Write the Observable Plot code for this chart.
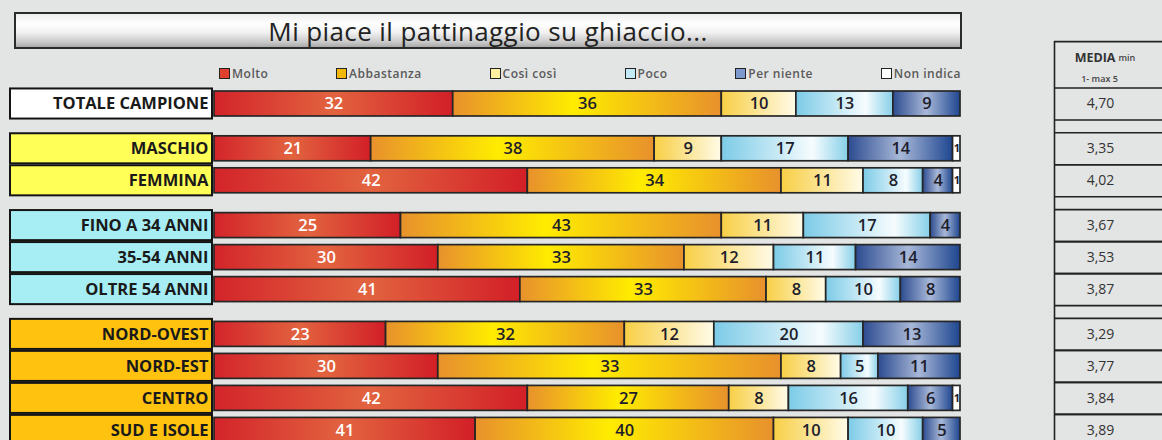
<!DOCTYPE html>
<html>
<head>
<meta charset="utf-8">
<script src="https://cdn.jsdelivr.net/npm/d3@7"></script>
<script src="https://cdn.jsdelivr.net/npm/@observablehq/plot@0.6"></script>
<style>
html, body { margin: 0; padding: 0; background: #e3e4e4; }
#wrap { position: relative; width: 1162px; height: 440px; overflow: hidden; background: #e3e4e4; font-family: "Open Sans", sans-serif; }
#title { position: absolute; left: 14px; top: 12px; width: 944px; height: 33px; border: 2px solid #2b2b2b;
  background: linear-gradient(to bottom, #eeeeee 0%, #ffffff 30%, #f2f2f2 55%, #c9c9c9 85%, #a9a9a9 100%);
  display: flex; align-items: center; justify-content: center; font-size: 26px; color: #222; letter-spacing: 0.4px; }
#legend { position: absolute; left: 219px; top: 64px; width: 742px; height: 18px; display: flex; justify-content: space-between; align-items: center;
  font-size: 12px; font-weight: 600; color: #5a5a5a; letter-spacing: 0.5px; }
#legend .item { display: flex; align-items: center; white-space: nowrap; }
#legend .sw { display: inline-block; width: 9px; height: 9px; border: 1.6px solid #222; margin-right: 2px; }
.col { position: absolute; top: 0; height: 440px; overflow: hidden; }
</style>
</head>
<body>
<div id="wrap">
  <div id="title"></div>
  <div id="legend"></div>
  <div class="col" id="labels" style="left:0;width:214px"></div>
  <div class="col" id="bars" style="left:0;width:962px"></div>
  <div class="col" id="table" style="left:1040px;width:122px"></div>
</div>
<script>
// ---------- DATA ----------
const titleText = "Mi piace il pattinaggio su ghiaccio...";
const categories = ["Molto", "Abbastanza", "Così così", "Poco", "Per niente", "Non indica"];
const rowLabels = ["TOTALE CAMPIONE", "MASCHIO", "FEMMINA", "FINO A 34 ANNI", "35-54 ANNI", "OLTRE 54 ANNI",
                   "NORD-OVEST", "NORD-EST", "CENTRO", "SUD E ISOLE"];
const rowGroups = [0, 1, 1, 2, 2, 2, 3, 3, 3, 3];

// bar lengths as drawn
const molto      = [32, 21, 42, 25, 30, 41, 23, 30, 42, 35];
const abbastanza = [36, 38, 34, 43, 33, 33, 32, 46, 27, 40];
const cosiCosi   = [10,  9, 11, 11, 12,  8, 12,  8,  8, 10];
const poco       = [13, 17,  8, 17, 11, 10, 20,  5, 16, 10];
const perNiente  = [ 9, 14,  4,  4, 14,  8, 13, 11,  6,  5];
const nonIndica  = [ 0,  1,  1,  0,  0,  0,  0,  0,  1,  0];

// numbers printed on the bars (where they differ from the drawn lengths)
const moltoPrinted      = [32, 21, 42, 25, 30, 41, 23, 30, 42, 41];
const abbastanzaPrinted = [36, 38, 34, 43, 33, 33, 32, 33, 27, 40];

const media = [4.70, 3.35, 4.02, 3.67, 3.53, 3.87, 3.29, 3.77, 3.84, 3.89];
const mediaHeader = ["MEDIA", "min", "1- max 5"];

// ---------- STYLE ----------
const groupColors = ["#ffffff", "#ffff57", "#a6eef4", "#ffc20f"];
const swatchColors = ["#e0402e", "#f2b90c", "#fff1a0", "#c2e9f6", "#7d98cc", "#ffffff"];
const gradStops = [
  [[0, "#d3242a"], [0.5, "#e2633f"], [1, "#d21f27"]],
  [[0, "#e8912c"], [0.45, "#ffec00"], [1, "#e8912c"]],
  [[0, "#f8cf45"], [1, "#fffbe8"]],
  [[0, "#7ccbe7"], [0.72, "#f6fcfe"], [1, "#86cfe8"]],
  [[0, "#2c4b90"], [0.5, "#a8b8d8"], [1, "#1e4690"]],
  [[0, "#ffffff"], [1, "#ffffff"]]
];

const series = [molto, abbastanza, cosiCosi, poco, perNiente, nonIndica];
const printed = [moltoPrinted, abbastanzaPrinted, cosiCosi, poco, perNiente, nonIndica];

const rows = rowLabels.map((label, i) => ({
  label, i, group: rowGroups[i], pos: i + 0.4 * rowGroups[i], media: media[i]
}));

const segs = [];
rows.forEach((r, i) => {
  let acc = 0;
  series.forEach((s, k) => {
    const v = s[i];
    if (v > 0) segs.push({row: i, pos: r.pos, cat: k, x1: acc, x2: acc + v, v, label: String(printed[k][i])});
    acc += v;
  });
});

const yScale = {type: "linear", domain: [0, 10], range: [103.5, 423.5], axis: null};
const baseStyle = {background: "transparent", maxWidth: "none", fontFamily: "Open Sans, sans-serif"};

// ---------- TITLE & LEGEND ----------
document.getElementById("title").textContent = titleText;
const leg = d3.select("#legend");
categories.forEach((c, k) => {
  const it = leg.append("div").attr("class", "item");
  it.append("span").attr("class", "sw").style("background", swatchColors[k]);
  it.append("span").text(c);
});

// ---------- LABEL COLUMN ----------
const labelsPlot = Plot.plot({
  width: 214, height: 440, marginLeft: 10, marginRight: 2, marginTop: 0, marginBottom: 0,
  x: {domain: [0, 1], axis: null}, y: yScale, style: baseStyle,
  marks: [
    ...groupColors.map((col, g) => Plot.rect(rows.filter(r => r.group === g), {
      x1: () => 0, x2: () => 1, y1: d => d.pos - 0.47, y2: d => d.pos + 0.47,
      fill: col, stroke: "#141414", strokeWidth: 2
    })),
    Plot.text(rows, {x: () => 1, y: "pos", text: "label", textAnchor: "end", dx: -4,
      fontWeight: 700, fontSize: 16.5, fill: "#1a1a1a", style: "letter-spacing:0.5px"})
  ]
});
document.getElementById("labels").appendChild(labelsPlot);

// ---------- BARS ----------
const barsPlot = Plot.plot({
  width: 962, height: 440, marginLeft: 214, marginRight: 2, marginTop: 0, marginBottom: 0,
  x: {domain: [0, 100], axis: null}, y: yScale, style: baseStyle,
  marks: [
    ...categories.map((c, k) => Plot.rect(segs.filter(d => d.cat === k), {
      x1: "x1", x2: "x2", y1: d => d.pos - 0.39, y2: d => d.pos + 0.39,
      fill: `url(#grad${k})`, stroke: "#262626", strokeWidth: 1.7
    })),
    Plot.text(segs.filter(d => d.cat === 0), {x: d => (d.x1 + d.x2) / 2, y: "pos", text: "label",
      fill: "#ffffff", fontSize: 16.5, fontWeight: 600}),
    Plot.text(segs.filter(d => d.cat > 0 && d.v >= 2), {x: d => (d.x1 + d.x2) / 2, y: "pos", text: "label",
      fill: "#1d1d2b", fontSize: 16.5, fontWeight: 600}),
    Plot.text(segs.filter(d => d.cat > 0 && d.v < 2), {x: d => (d.x1 + d.x2) / 2, y: "pos", text: "label",
      fill: "#1d1d2b", fontSize: 11, fontWeight: 700})
  ]
});
const defs = d3.select(barsPlot).insert("defs", ":first-child");
gradStops.forEach((stops, k) => {
  const g = defs.append("linearGradient").attr("id", "grad" + k)
    .attr("x1", "0").attr("x2", "1").attr("y1", "0").attr("y2", "0");
  stops.forEach(([o, c]) => g.append("stop").attr("offset", o).attr("stop-color", c));
});
document.getElementById("bars").appendChild(barsPlot);

// ---------- TABLE ----------
const fmt = v => d3.format(".2f")(v).replace(".", ",");
const lines = [];
rows.forEach(r => { lines.push(r.pos - 0.5); lines.push(r.pos + 0.5); });
const tablePlot = Plot.plot({
  width: 140, height: 460, marginLeft: 14, marginRight: 0, marginTop: 0, marginBottom: 20,
  x: {domain: [0, 1], axis: null}, y: yScale, style: baseStyle,
  marks: [
    Plot.ruleY([-1.95, ...lines], {x1: () => 0, x2: () => 1, stroke: "#222", strokeWidth: 1.6}),
    Plot.ruleX([0], {y1: -1.95, y2: 12, stroke: "#222", strokeWidth: 1.6}),
    Plot.text([mediaHeader[0]], {x: () => 0, y: () => -1.45, text: d => d, dx: 61, textAnchor: "end",
      fontSize: 12.5, fontWeight: 700, fill: "#333"}),
    Plot.text([mediaHeader[1]], {x: () => 0, y: () => -1.42, text: d => d, dx: 64, textAnchor: "start",
      fontSize: 9, fontWeight: 600, fill: "#444"}),
    Plot.text([mediaHeader[2]], {x: () => 0, y: () => -0.77, text: d => d, dx: 45,
      fontSize: 9, fontWeight: 600, fill: "#444"}),
    Plot.text(rows, {x: () => 0, y: "pos", text: d => fmt(d.media), dx: 46, fontSize: 14, fill: "#333"})
  ]
});
document.getElementById("table").appendChild(tablePlot);
</script>
</body>
</html>
